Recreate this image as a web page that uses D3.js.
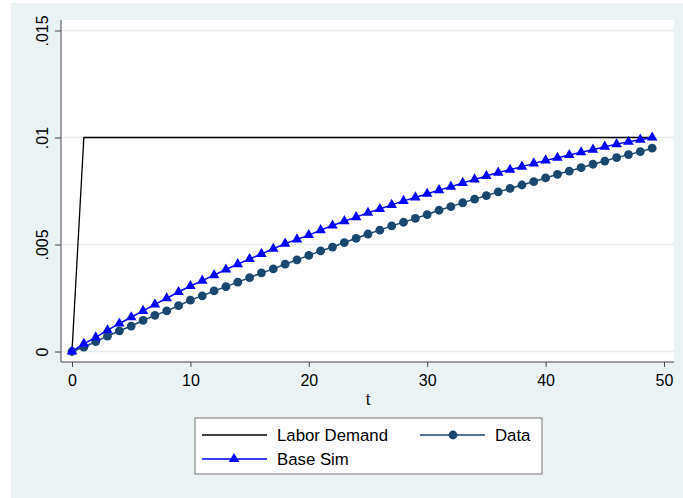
<!DOCTYPE html>
<html>
<head>
<meta charset="utf-8">
<script src="https://cdn.jsdelivr.net/npm/d3@7"></script>
<style>
  body { margin: 0; background: #fff; }
  text { font-family: "Liberation Sans", Arial, Helvetica, sans-serif; }
</style>
</head>
<body>
<svg width="683" height="498"></svg>
<script>
// t = 0..49
let periods = d3.range(0, 50);

let laborDemand = [0].concat(d3.range(1, 50).map(() => 0.01));

let dataSeries = [
  0, 0.0002, 0.00046, 0.00072, 0.00096, 0.00119, 0.00145, 0.00169, 0.0019, 0.00214,
  0.0024, 0.0026, 0.00283, 0.00303, 0.00324, 0.00345, 0.00367, 0.00386, 0.00408, 0.00428,
  0.00449, 0.0047, 0.00488, 0.00509, 0.00529, 0.00549, 0.00567, 0.00587, 0.00604, 0.00622,
  0.0064, 0.0066, 0.00677, 0.00695, 0.00712, 0.00728, 0.00746, 0.00762, 0.00778, 0.00794,
  0.00811, 0.00828, 0.00843, 0.00859, 0.00875, 0.0089, 0.00906, 0.0092, 0.00934, 0.0095
];

let baseSim = [
  0, 0.00036, 0.00066, 0.00099, 0.00131, 0.0016, 0.0019, 0.0022, 0.00249, 0.00278,
  0.00306, 0.00331, 0.00357, 0.00383, 0.00408, 0.00432, 0.00456, 0.0048, 0.00504, 0.00524,
  0.00544, 0.00567, 0.00589, 0.00609, 0.00628, 0.00648, 0.00666, 0.00685, 0.00704, 0.0072,
  0.00737, 0.00754, 0.0077, 0.00788, 0.00804, 0.0082, 0.00836, 0.00849, 0.00864, 0.00879,
  0.00893, 0.00905, 0.00918, 0.00931, 0.00943, 0.00957, 0.00969, 0.0098, 0.0099, 0.01
];

let xTicks = [0, 10, 20, 30, 40, 50];
let yTicks = [0, 0.005, 0.01, 0.015];

let svg = d3.select("svg");

// outer graph region + white plot region
svg.append("rect").attr("x", 11).attr("y", 3).attr("width", 672).attr("height", 495)
  .attr("fill", "#eaf2f3");
svg.append("rect").attr("x", 61).attr("y", 20).attr("width", 613).attr("height", 342)
  .attr("fill", "#fff");

let x = d3.scaleLinear().domain([0, 50]).range([72, 664]);
let y = d3.scaleLinear().domain([0, 0.015]).range([351.5, 30.5]);

// gridlines
svg.append("g").selectAll("line")
  .data(yTicks)
  .enter().append("line")
  .attr("x1", 61).attr("x2", 674)
  .attr("y1", d => y(d)).attr("y2", d => y(d))
  .attr("stroke", "#e6eef0").attr("stroke-width", 1.5);

// axis lines
svg.append("line").attr("x1", 61).attr("x2", 61).attr("y1", 20).attr("y2", 362)
  .attr("stroke", "#444").attr("stroke-width", 1);
svg.append("line").attr("x1", 61).attr("x2", 674).attr("y1", 362).attr("y2", 362)
  .attr("stroke", "#444").attr("stroke-width", 1);

let fmtY = d => d === 0 ? "0" : d3.format(".3~f")(d).replace(/^0/, "");

let yAxis = svg.append("g")
  .attr("transform", "translate(61,0)")
  .call(d3.axisLeft(y).tickValues(yTicks).tickFormat(fmtY).tickSize(6));
yAxis.select(".domain").remove();
yAxis.selectAll(".tick line").attr("stroke", "#444");
yAxis.selectAll(".tick text")
  .attr("x", null).attr("dy", null)
  .attr("text-anchor", "middle")
  .attr("transform", "translate(-13,0) rotate(-90)")
  .attr("font-size", 16).attr("fill", "#000");

let xAxis = svg.append("g")
  .attr("transform", "translate(0,362)")
  .call(d3.axisBottom(x).tickValues(xTicks).tickFormat(d3.format("d")).tickSize(5).tickPadding(8));
xAxis.select(".domain").remove();
xAxis.selectAll(".tick line").attr("stroke", "#444");
xAxis.selectAll(".tick text").attr("font-size", 16).attr("fill", "#000");

svg.append("text").attr("x", 368).attr("y", 405).attr("text-anchor", "middle")
  .attr("font-size", 16.5).text("t");

// series
let line = d3.line().x((d, i) => x(periods[i])).y(d => y(d));

svg.append("path").datum(laborDemand)
  .attr("d", line).attr("fill", "none").attr("stroke", "#000").attr("stroke-width", 1.3);

svg.append("path").datum(dataSeries)
  .attr("d", line).attr("fill", "none").attr("stroke", "#1a476f").attr("stroke-width", 1.5);
svg.append("g").selectAll("circle")
  .data(dataSeries)
  .enter().append("circle")
  .attr("cx", (d, i) => x(periods[i])).attr("cy", d => y(d))
  .attr("r", 4.4).attr("fill", "#1a476f");

let tri = d3.symbol().type(d3.symbolTriangle).size(48);
svg.append("path").datum(baseSim)
  .attr("d", line).attr("fill", "none").attr("stroke", "#0000ff").attr("stroke-width", 1.5);
svg.append("g").selectAll("path")
  .data(baseSim)
  .enter().append("path")
  .attr("d", tri)
  .attr("transform", (d, i) => `translate(${x(periods[i])},${y(d)})`)
  .attr("fill", "#0000ff");

// legend
let legend = svg.append("g");
legend.append("rect").attr("x", 195).attr("y", 418).attr("width", 347).attr("height", 56)
  .attr("fill", "#fff").attr("stroke", "#777").attr("stroke-width", 1);

let legendItems = [
  { label: "Labor Demand", color: "#000", marker: null, lx: 202, ly: 435 },
  { label: "Data", color: "#1a476f", marker: "circle", lx: 420, ly: 435 },
  { label: "Base Sim", color: "#0000ff", marker: "triangle", lx: 202, ly: 459 }
];
legendItems.forEach(it => {
  legend.append("line").attr("x1", it.lx).attr("x2", it.lx + 65)
    .attr("y1", it.ly).attr("y2", it.ly)
    .attr("stroke", it.color).attr("stroke-width", it.marker ? 1.5 : 1.3);
  if (it.marker === "circle") {
    legend.append("circle").attr("cx", it.lx + 33).attr("cy", it.ly).attr("r", 4.4).attr("fill", it.color);
  } else if (it.marker === "triangle") {
    legend.append("path").attr("d", tri).attr("transform", `translate(${it.lx + 32},${it.ly})`).attr("fill", it.color);
  }
  legend.append("text").attr("x", it.lx + 75).attr("y", it.ly).attr("dy", "0.36em")
    .attr("font-size", 16.8).text(it.label);
});
</script>
</body>
</html>
